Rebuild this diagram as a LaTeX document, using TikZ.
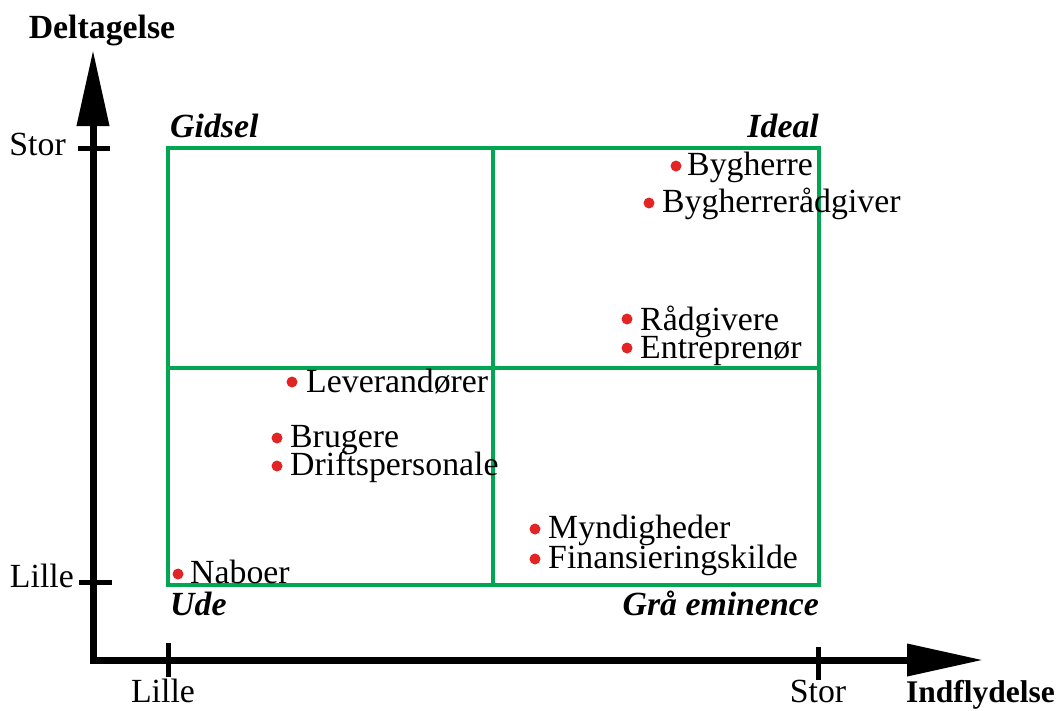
\documentclass[tikz,border=0pt]{standalone}
\usepackage{fontspec}
\setmainfont{Liberation Serif}
\usetikzlibrary{arrows.meta}
\definecolor{gridgreen}{RGB}{0,166,81}
\definecolor{dotred}{RGB}{226,36,36}
\begin{document}
\begin{tikzpicture}[x=1pt,y=-1pt,
  every node/.style={font=\fontsize{33.8}{40}\selectfont, inner sep=0pt},
  axis/.style={line width=7pt, {Triangle[width=31pt,length=76pt]}-{Triangle[width=31pt,length=76pt]}},
  tick/.style={line width=5pt},
  grid/.style={draw=gridgreen, line width=4pt},
  dot/.style={circle, fill=dotred, minimum size=11pt, inner sep=0pt},
  item/.style={anchor=base west},
  quad/.style={font=\fontsize{33.8}{40}\selectfont\bfseries\itshape},
  title/.style={font=\fontsize{33.8}{40}\selectfont\bfseries}]
\useasboundingbox (0,0) rectangle (1059,710);

% quadrant grid
\draw[grid] (168,148) rectangle (819,585);
\draw[grid] (493,148) -- (493,585);
\draw[grid] (168,368) -- (819,368);

% axes
\coordinate (ytip) at (93,50);
\coordinate (origin) at (93,660);
\coordinate (xtip) at (983,660);
\draw[axis] (ytip) -- (origin) -- (xtip);

% ticks
\coordinate (ystor) at (93,148);
\coordinate (ylille) at (93,582);
\coordinate (xlille) at (168,660);
\coordinate (xstor) at (818,660);
\draw[tick] ([xshift=-15pt]ystor) -- ([xshift=17pt]ystor);
\draw[tick] ([xshift=-14pt]ylille) -- ([xshift=19pt]ylille);
\draw[tick] ([yshift=-17pt]xlille) -- ([yshift=17pt]xlille);
\draw[tick] ([yshift=-20pt]xstor) -- ([yshift=13pt]xstor);

% axis labels
\node[title, anchor=base] (ylabel) at (102,38) {Deltagelse};
\node[anchor=base east, font=\fontsize{31.5}{38}\selectfont\bfseries] (xlabel) at (1055,702) {Indflydelse};
\node[anchor=base east] (ystorlbl) at (66,155) {Stor};
\node[anchor=base east] (ylillelbl) at (74,587) {Lille};
\node[anchor=base] (xlillelbl) at (163,702) {Lille};
\node[anchor=base] (xstorlbl) at (818,702) {Stor};

% quadrant names
\node[quad, anchor=base west] (gidsel) at (170,137) {Gidsel};
\node[quad, anchor=base east] (ideal) at (819,137) {Ideal};
\node[quad, anchor=base west] (ude) at (170,615) {Ude};
\node[quad, anchor=base east] (graa) at (819,615) {Grå eminence};

% stakeholders
\node[dot] (d1) at (676,166) {};
\node[item] (t1) at (687,175) {Bygherre};
\node[dot] (d2) at (649,203) {};
\node[item] (t2) at (662,212) {Bygherrerådgiver};
\node[dot] (d3) at (627,319) {};
\node[item] (t3) at (640,330) {Rådgivere};
\node[dot] (d4) at (627,348) {};
\node[item] (t4) at (640,358) {Entreprenør};
\node[dot] (d5) at (292,382) {};
\node[item] (t5) at (306,392) {Leverandører};
\node[dot] (d6) at (277,438) {};
\node[item] (t6) at (290,447) {Brugere};
\node[dot] (d7) at (277,466) {};
\node[item] (t7) at (290,475) {Driftspersonale};
\node[dot] (d8) at (535,529) {};
\node[item] (t8) at (548,538) {Myndigheder};
\node[dot] (d9) at (535,559) {};
\node[item] (t9) at (548,568) {Finansieringskilde};
\node[dot] (d10) at (178,574) {};
\node[item] (t10) at (190,583) {Naboer};
\end{tikzpicture}
\end{document}
